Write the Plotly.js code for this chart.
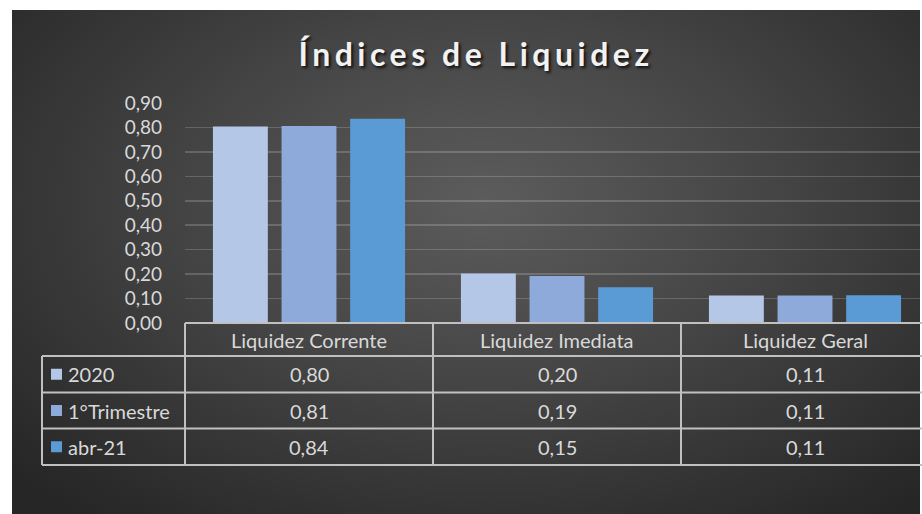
<!DOCTYPE html>
<html><head><meta charset="utf-8">
<script src="https://cdn.plot.ly/plotly-3.0.1.min.js"></script>
<style>
html,body{margin:0;padding:0;background:#fff;}
#wrap{position:relative;width:922px;height:514px;overflow:hidden;background:#fff;}
#bg{position:absolute;left:12px;top:10px;right:2px;bottom:0;background:radial-gradient(ellipse 70% 80% at 52% 38%, #5c5c5c 0%, #454545 45%, #262626 100%);}
#chart{position:absolute;left:0;top:0;width:922px;height:514px;}
.gtitle{letter-spacing:4.5px;}
</style></head><body>
<div id="wrap"><div id="bg"></div><div id="chart"></div></div>
<script>
const categories = ["Liquidez Corrente", "Liquidez Imediata", "Liquidez Geral"];
const seriesNames = ["2020", "1°Trimestre", "abr-21"];
const values2020 = [0.804, 0.202, 0.112];
const valuesTri1 = [0.806, 0.192, 0.112];
const valuesAbr21 = [0.836, 0.146, 0.114];
const yTickVals = [0, 0.1, 0.2, 0.3, 0.4, 0.5, 0.6, 0.7, 0.8, 0.9];
const seriesColors = ["#b4c7e7", "#8eaadb", "#5b9bd5"];

const allSeries = [values2020, valuesTri1, valuesAbr21];
const fmt = v => v.toFixed(2).replace('.', ',');
const catIdx = categories.map((c, i) => i);

const W = 922, H = 514, ML = 185, MR = 0, MT = 103, MB = 191;
const plotW = W - ML - MR, plotH = H - MT - MB;
const px2x = p => (p - ML) / plotW;
const py2y = p => (H - MB - p) / plotH;

const traces = allSeries.map((vals, i) => ({
  type: 'bar', name: seriesNames[i], x: catIdx, y: vals,
  marker: {color: seriesColors[i], line: {width: 0}},
  hoverinfo: 'skip'
}));

const lineColor = '#c0c0c0', lw = 2;
const rowEdges = [323, 356, 392.5, 428.5, 465];
const leftX = 42;
const shapes = [];
shapes.push({type:'line', xref:'paper', yref:'paper', x0:0, x1:1.02, y0:py2y(rowEdges[0]), y1:py2y(rowEdges[0]), line:{color:lineColor, width:lw}});
for (let r = 1; r < rowEdges.length; r++) {
  shapes.push({type:'line', xref:'paper', yref:'paper', x0:px2x(leftX), x1:1.02, y0:py2y(rowEdges[r]), y1:py2y(rowEdges[r]), line:{color:lineColor, width:lw}});
}
shapes.push({type:'line', xref:'paper', yref:'paper', x0:0, x1:0, y0:py2y(rowEdges[0]), y1:py2y(rowEdges[4]), line:{color:lineColor, width:lw}});
shapes.push({type:'line', xref:'paper', yref:'paper', x0:px2x(leftX), x1:px2x(leftX), y0:py2y(rowEdges[1]), y1:py2y(rowEdges[4]), line:{color:lineColor, width:lw}});
for (let c = 0; c < categories.length - 1; c++) {
  shapes.push({type:'line', xref:'x', yref:'paper', x0:c+0.5, x1:c+0.5, y0:py2y(rowEdges[0]), y1:py2y(rowEdges[4]), line:{color:lineColor, width:lw}});
}
seriesNames.forEach((n, i) => {
  const cy = (rowEdges[i+1] + rowEdges[i+2]) / 2;
  shapes.push({type:'rect', xref:'paper', yref:'paper', x0:px2x(51), x1:px2x(62), y0:py2y(cy-5.5), y1:py2y(cy+5.5), fillcolor:seriesColors[i], line:{width:0}});
});

const txtFont = {family:'Lato, sans-serif', size:20, color:'#d9d9d9'};
const annotations = [];
categories.forEach((c, j) => {
  annotations.push({xref:'x', yref:'paper', x:j, y:py2y((rowEdges[0]+rowEdges[1])/2), text:c, showarrow:false, xanchor:'center', yanchor:'middle', font:txtFont});
});
allSeries.forEach((vals, i) => {
  const cy = (rowEdges[i+1] + rowEdges[i+2]) / 2;
  annotations.push({xref:'paper', yref:'paper', x:px2x(66), y:py2y(cy), text:seriesNames[i], showarrow:false, xanchor:'left', yanchor:'middle', font:txtFont});
  vals.forEach((v, j) => {
    annotations.push({xref:'x', yref:'paper', x:j, y:py2y(cy), text:fmt(v), showarrow:false, xanchor:'center', yanchor:'middle', font:txtFont});
  });
});

const layout = {
  width: W, height: H,
  margin: {l: ML, r: MR, t: MT, b: MB, pad: 0},
  paper_bgcolor: 'rgba(0,0,0,0)', plot_bgcolor: 'rgba(0,0,0,0)',
  showlegend: false,
  barmode: 'group', bargap: 0.17, bargroupgap: 0.2,
  title: {text: 'Índices de Liquidez', x: 476/922, xanchor: 'center', y: 1 - 55/514, yanchor: 'middle',
          font: {family: 'Lato, sans-serif', size: 32, weight: 'bold', color: '#f2f2f2', shadow: '2px 2px 3px rgba(0,0,0,0.8)'}},
  xaxis: {type: 'linear', range: [-0.5, (W - ML) / 248 - 0.5], showticklabels: false, showgrid: false, zeroline: false, showline: false, ticks: ''},
  yaxis: {range: [0, 0.9], tickvals: yTickVals, ticktext: yTickVals.map(fmt), showgrid: true,
          gridcolor: 'rgba(255,255,255,0.18)', gridwidth: 1.5, zeroline: false, showline: false, ticks: '',
          ticklabelstandoff: 22, tickfont: {family: 'Lato, sans-serif', size: 19, color: '#d9d9d9'}},
  shapes: shapes, annotations: annotations
};

Plotly.newPlot('chart', traces, layout, {displayModeBar: false, staticPlot: true});
</script></body></html>
